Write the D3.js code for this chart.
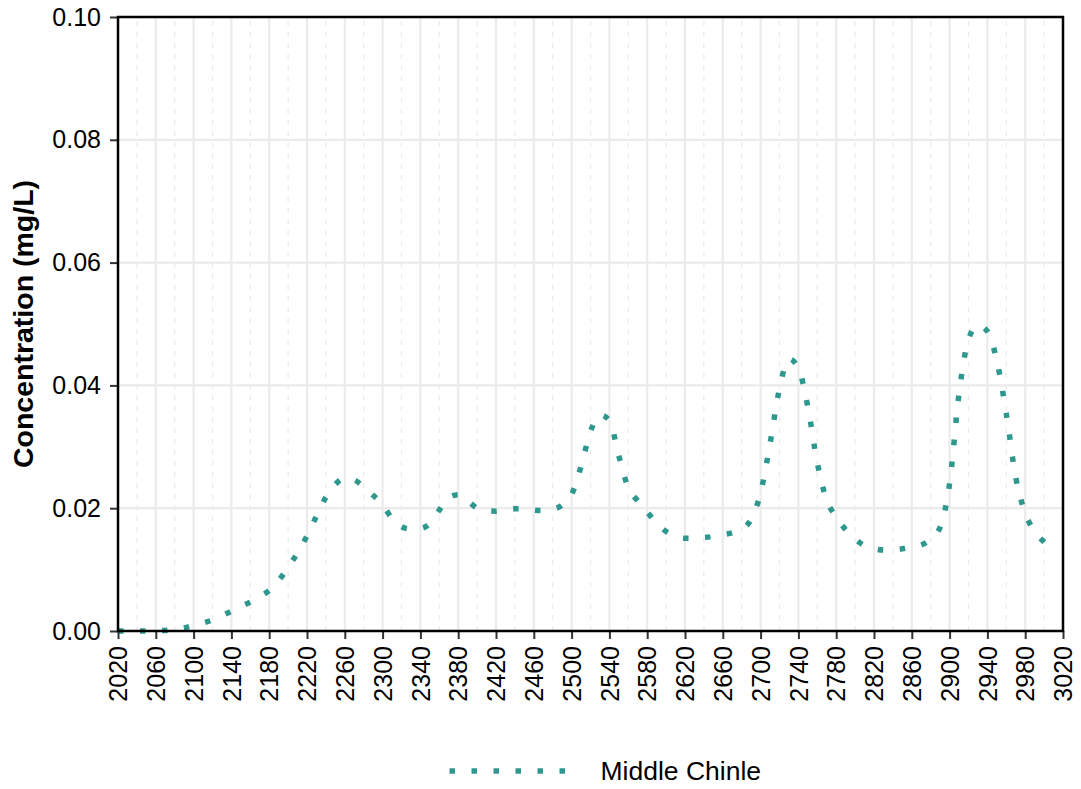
<!DOCTYPE html>
<html>
<head>
<meta charset="utf-8">
<script src="https://cdn.jsdelivr.net/npm/d3@7"></script>
<style>
  body { margin: 0; background: #fff; }
  text { font-family: "Liberation Sans", Arial, sans-serif; }
</style>
</head>
<body>
<script>
const years = d3.range(2020, 3011, 10)
const concentration = [
  0, 0, 0, 0, 0.00005, 0.0001, 0.0003, 0.0005, 0.0009, 0.0013,
  0.0018, 0.0025, 0.0032, 0.004, 0.0047, 0.0056, 0.0066, 0.0082, 0.0104, 0.0127,
  0.0155, 0.0187, 0.0218, 0.0239, 0.0249, 0.0246, 0.0235, 0.0221, 0.0206, 0.0183,
  0.017, 0.0166, 0.0167, 0.0175, 0.0197, 0.0217, 0.0222, 0.0212, 0.02, 0.0196,
  0.0195, 0.0197, 0.0199, 0.0199, 0.0197, 0.0196, 0.0198, 0.0205, 0.0222, 0.0268,
  0.0325, 0.0352, 0.0343, 0.0285, 0.0233, 0.0212, 0.0194, 0.0175, 0.0162, 0.0154,
  0.0151, 0.0151, 0.0152, 0.0154, 0.0157, 0.016, 0.0166, 0.0182, 0.0225, 0.0305,
  0.0395, 0.0443, 0.0428, 0.0365, 0.0274, 0.0213, 0.0186, 0.0165, 0.015, 0.0139,
  0.0134, 0.0132, 0.0133, 0.0134, 0.0137, 0.014, 0.015, 0.0169, 0.024, 0.0387,
  0.0475, 0.0498, 0.0488, 0.044, 0.0354, 0.025, 0.0192, 0.0162, 0.0145, 0.0131
]
const xTicks = d3.range(2020, 3021, 40)
const xMinor = d3.range(2040, 3020, 40)
const yTicks = [0, 0.02, 0.04, 0.06, 0.08, 0.1]
const seriesName = 'Middle Chinle'
const color = '#2f988e'

const width = 1081
const height = 789
const margin = { top: 17, right: 18, bottom: 158, left: 118 }

const svg = d3.select('body').append('svg')
  .attr('width', width)
  .attr('height', height)

const x = d3.scaleLinear().domain([2020, 3020]).range([margin.left, width - margin.right])
const y = d3.scaleLinear().domain([0, 0.1]).range([height - margin.bottom, margin.top])

// grid
svg.append('g')
  .selectAll('line')
  .data(xMinor)
  .join('line')
    .attr('x1', d => x(d)).attr('x2', d => x(d))
    .attr('y1', y(0)).attr('y2', y(0.1))
    .style('stroke', '#ebebeb')
    .style('stroke-width', 1.2)
    .style('stroke-dasharray', '5,6')

svg.append('g')
  .selectAll('line')
  .data(xTicks)
  .join('line')
    .attr('x1', d => x(d)).attr('x2', d => x(d))
    .attr('y1', y(0)).attr('y2', y(0.1))
    .style('stroke', '#ebebeb')
    .style('stroke-width', 2.2)

svg.append('g')
  .selectAll('line')
  .data(yTicks)
  .join('line')
    .attr('x1', x(2020)).attr('x2', x(3020))
    .attr('y1', d => y(d)).attr('y2', d => y(d))
    .style('stroke', '#ebebeb')
    .style('stroke-width', 2.2)

// line
const line = d3.line()
  .x((d, i) => x(years[i]))
  .y(d => y(d))
  .curve(d3.curveMonotoneX)

svg.append('path')
  .datum(concentration)
  .attr('d', line)
  .style('fill', 'none')
  .style('stroke', color)
  .style('stroke-width', 5.5)
  .style('stroke-dasharray', '5.5,16.5')

// axes
const xAxis = svg.append('g')
  .attr('transform', `translate(0, ${y(0)})`)
  .call(d3.axisBottom(x).tickValues(xTicks).tickFormat(d3.format('d')).tickSize(8))
xAxis.select('.domain').remove()
xAxis.selectAll('.tick line').style('stroke', '#333').style('stroke-width', 2)
xAxis.selectAll('.tick text')
  .style('font-size', '25px')
  .style('fill', '#000')
  .attr('transform', 'rotate(-90)')
  .attr('x', -15)
  .attr('y', 0)
  .attr('dy', '0.35em')
  .style('text-anchor', 'end')

const yAxis = svg.append('g')
  .attr('transform', `translate(${x(2020)}, 0)`)
  .call(d3.axisLeft(y).tickValues(yTicks).tickFormat(d3.format('.2f')).tickSize(8).tickPadding(9))
yAxis.select('.domain').remove()
yAxis.selectAll('.tick line').style('stroke', '#333').style('stroke-width', 2)
yAxis.selectAll('.tick text').style('font-size', '25px').style('fill', '#000')

// panel border
svg.append('rect')
  .attr('x', x(2020)).attr('y', y(0.1))
  .attr('width', x(3020) - x(2020))
  .attr('height', y(0) - y(0.1))
  .style('fill', 'none')
  .style('stroke', '#000')
  .style('stroke-width', 2.5)

svg.append('text')
  .attr('transform', `translate(33, ${(y(0) + y(0.1)) / 2}) rotate(-90)`)
  .style('text-anchor', 'middle')
  .style('font-size', '28.5px')
  .style('font-weight', 'bold')
  .text('Concentration (mg/L)')

// legend
const legend = svg.append('g').attr('transform', 'translate(449.5, 771)')
legend.append('line')
  .attr('x1', 0).attr('x2', 128)
  .style('stroke', color)
  .style('stroke-width', 5.5)
  .style('stroke-dasharray', '5.5,16.5')
legend.append('text')
  .attr('x', 151)
  .attr('dy', '0.35em')
  .style('font-size', '26.5px')
  .text(seriesName)
</script>
</body>
</html>
